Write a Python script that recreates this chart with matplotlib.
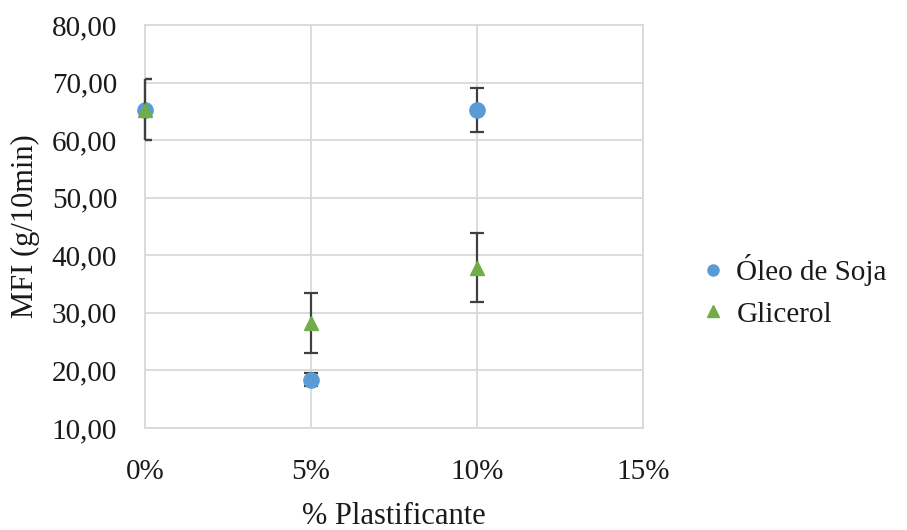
import matplotlib
matplotlib.use("Agg")
import matplotlib.pyplot as plt
from matplotlib.lines import Line2D
from matplotlib.ticker import FuncFormatter

plt.rcParams['font.family'] = ['Liberation Serif', 'DejaVu Serif']

# Plasticizer content (fraction) and melt flow index
plastificante = [0.00, 0.05, 0.10]
oleo_soja = [65.3, 18.4, 65.2]
oleo_soja_err = [5.3, 1.1, 3.8]
glicerol = [65.3, 28.3, 37.8]
glicerol_err = [5.3, 5.2, 6.0]

y_ticks = [10, 20, 30, 40, 50, 60, 70, 80]
x_ticks = [0.00, 0.05, 0.10, 0.15]

blue = '#5B9BD5'
green = '#70AD47'
grid_c = '#D9D9D9'
err_c = '#404040'
txt_c = '#1a1a1a'

W, H = 907, 530
fig = plt.figure(figsize=(W / 100, H / 100), dpi=100)
ax = fig.add_axes([145 / W, 1 - 428 / H, 498 / W, 403 / H])

for x, y, e, m, c, ms, z in [(plastificante, oleo_soja, oleo_soja_err, 'o', blue, 11, 3),
                             (plastificante, glicerol, glicerol_err, '^', green, 10.5, 4)]:
    markers, caps, bars = ax.errorbar(x, y, yerr=e, fmt=m, color=c, markersize=ms,
                                      ecolor=err_c, elinewidth=1.6, capsize=5,
                                      capthick=1.6, zorder=z)
    # markers sitting on the axis edge stay whole; error caps are clipped
    markers.set_clip_on(False)
    for b in bars:
        b.set_clip_on(False)

ax.set_xlim(0, 0.15)
ax.set_ylim(10, 80)
ax.set_xticks(x_ticks)
ax.set_yticks(y_ticks)
ax.xaxis.set_major_formatter(FuncFormatter(lambda v, p: f"{v*100:.0f}%"))
ax.yaxis.set_major_formatter(FuncFormatter(lambda v, p: f"{v:.2f}".replace('.', ',')))
ax.grid(True, color=grid_c, linewidth=1.3)
ax.set_axisbelow(True)
for s in ax.spines.values():
    s.set_color(grid_c)
    s.set_linewidth(1.3)
ax.tick_params(length=0, labelsize=21, colors=txt_c)
ax.tick_params(axis='y', pad=20)
ax.tick_params(axis='x', pad=22)

fig.text(25 / W, 1 - 226 / H, 'MFI (g/10min)', rotation=90, ha='center',
         va='center', fontsize=22, color=txt_c)
fig.text(394 / W, 1 - 517 / H, '% Plastificante', ha='center', va='center',
         fontsize=22, color=txt_c)

handles = [Line2D([], [], ls='none', marker='o', color=blue, markersize=8),
           Line2D([], [], ls='none', marker='^', color=green, markersize=8)]
fig.legend(handles, ['Óleo de Soja', 'Glicerol'], loc='center left',
           bbox_to_anchor=(678 / W, 1 - 291 / H), frameon=False, fontsize=21,
           handlelength=0.6, handletextpad=0.5, labelspacing=0.5, labelcolor=txt_c)

fig.savefig('out.png', dpi=100)
